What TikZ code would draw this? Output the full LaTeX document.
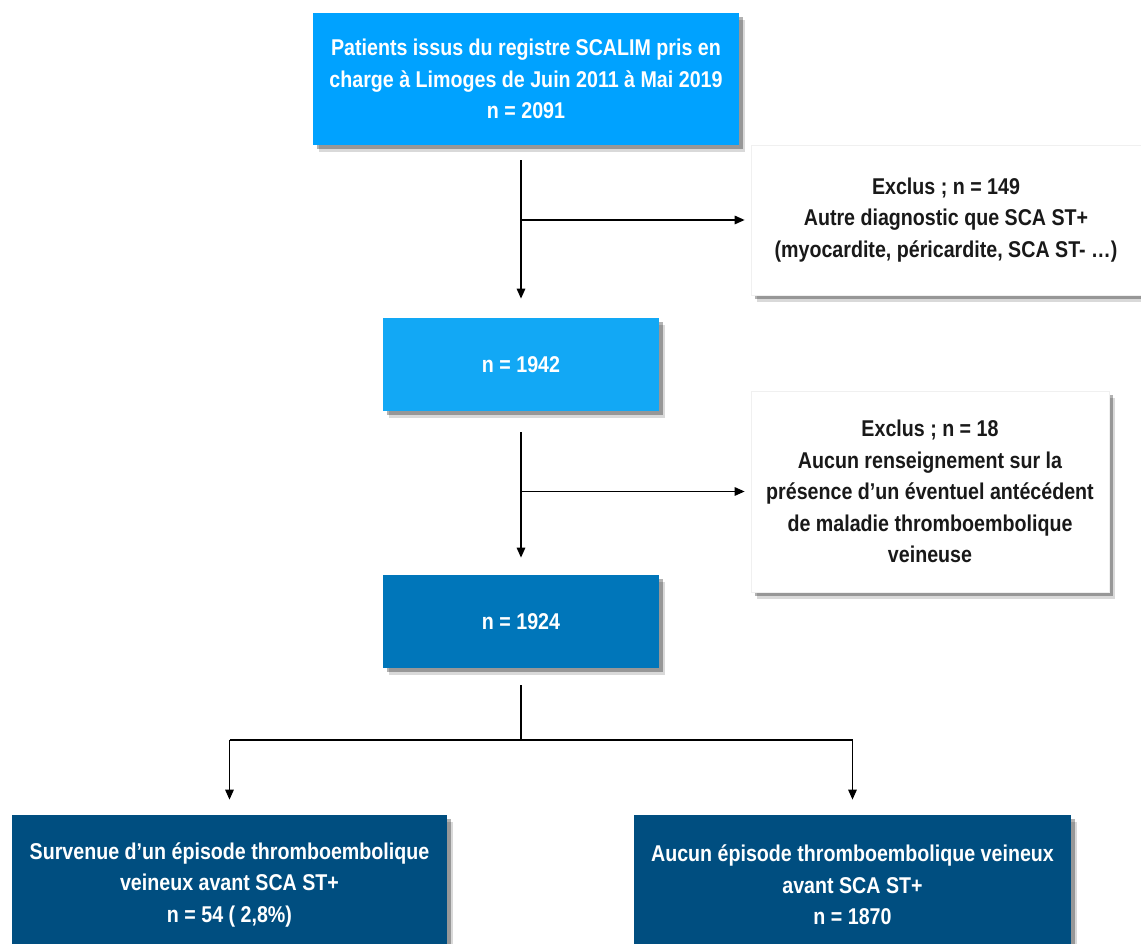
\documentclass[tikz,border=0pt]{standalone}
\usepackage{fontspec}
\setmainfont{Liberation Sans}[FakeStretch=0.86]
\usepackage{tikz}
\usetikzlibrary{arrows.meta, positioning, calc, shadows}
\usepackage{xcolor}
\definecolor{skyblue}{RGB}{0,162,255}
\definecolor{midblue}{RGB}{18,168,245}
\definecolor{ocean}{RGB}{0,118,186}
\definecolor{navy}{RGB}{0,78,128}

\begin{document}
\begin{tikzpicture}[
    box/.style={rectangle, align=center, inner sep=0pt,
      font=\fontsize{13}{18}\selectfont\bfseries,
      drop shadow={shadow xshift=0.11, shadow yshift=-0.14, opacity=0.15, fill=black},
      drop shadow={shadow xshift=0.07, shadow yshift=-0.09, opacity=0.3, fill=black}},
    bluebox/.style={box, fill=#1, text=white},
    whitebox/.style={box, fill=white, draw=black!6, text=black!90},
    line/.style={line width=0.85pt, black},
    arr/.style={line, -{Triangle[length=2mm, width=1.7mm]}}
  ]
  \useasboundingbox (0,0) rectangle (22.82,18.88);
  % boxes
  \node[bluebox=skyblue, minimum width=8.52cm, minimum height=2.64cm] (top) at (10.52,17.30)
    {Patients issus du registre SCALIM pris en\\ charge à Limoges de Juin 2011 à Mai 2019\\ n = 2091};
  \node[whitebox, minimum width=7.8cm, minimum height=3.0cm] (excl1) at (18.92,14.48)
    {Exclus ; n = 149\\ Autre diagnostic que SCA ST+\\ (myocardite, péricardite, SCA ST- …)};
  \node[bluebox=midblue, minimum width=5.52cm, minimum height=1.86cm] (n1) at (10.42,11.59) {n = 1942};
  \node[whitebox, minimum width=7.16cm, minimum height=4.02cm] (excl2) at (18.6,9.05)
    {Exclus ; n = 18\\ Aucun renseignement sur la\\ présence d’un éventuel antécédent\\ de maladie thromboembolique\\ veineuse};
  \node[bluebox=ocean, minimum width=5.52cm, minimum height=1.86cm] (n2) at (10.42,6.45) {n = 1924};
  \node[bluebox=navy, minimum width=8.7cm, minimum height=2.8cm] (res1) at (4.59,1.18)
    {Survenue d’un épisode thromboembolique\\ veineux avant SCA ST+\\ n = 54 ( 2,8\%)};
  \node[bluebox=navy, minimum width=8.74cm, minimum height=2.8cm] (res2) at (17.05,1.18)
    {Aucun épisode thromboembolique veineux\\ avant SCA ST+\\ n = 1870};
  % connectors
  \draw[arr, shorten <=3mm, shorten >=3.8mm] (top.south -| n1.north) -- (n1.north);
  \draw[arr, shorten >=1.2mm] (excl1.west -| n1.north) -- (excl1.west);
  \draw[arr, shorten <=4.2mm, shorten >=3.4mm] (n1.south) -- (n2.north);
  \draw[arr, shorten >=1.2mm] (excl2.west -| n1.north) -- (excl2.west);
  \coordinate (split) at (10.42,4.08);
  \draw[line, shorten <=3.4mm] (n2.south) -- (split);
  \draw[line] (split -| res1.north) -- (split -| res2.north);
  \draw[arr, shorten >=3mm] (split -| res1.north) -- (res1.north);
  \draw[arr, shorten >=3mm] (split -| res2.north) -- (res2.north);
\end{tikzpicture}
\end{document}
